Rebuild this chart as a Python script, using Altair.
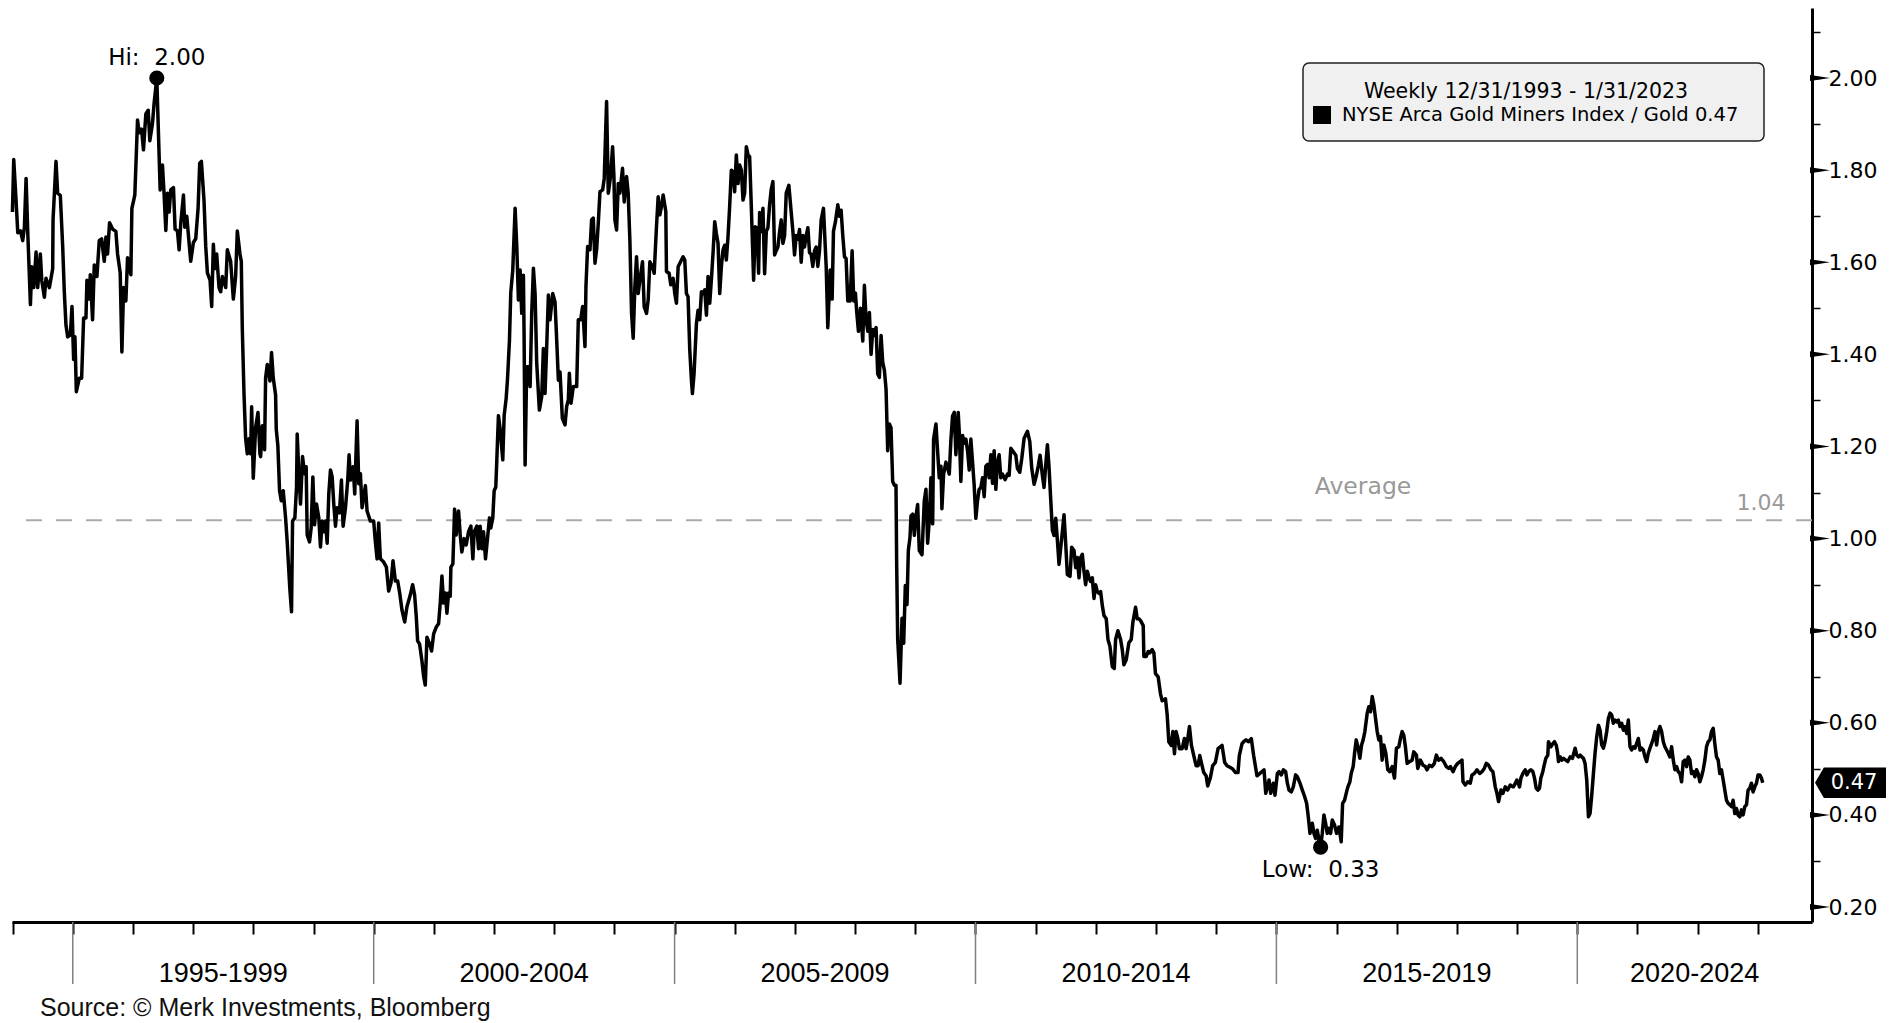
import altair as alt
import pandas as pd

# ---------------- data (decimal year, ratio) ----------------
seg_1994_1998 = [
    (1993.997, 1.709), (1994.019, 1.823), (1994.058, 1.733), (1994.086, 1.664), (1994.130, 1.668),
    (1994.168, 1.647), (1994.196, 1.676), (1994.224, 1.782), (1994.251, 1.668), (1994.279, 1.569),
    (1994.296, 1.508), (1994.318, 1.590), (1994.351, 1.545), (1994.390, 1.622), (1994.417, 1.545),
    (1994.461, 1.618), (1994.484, 1.561), (1994.528, 1.524), (1994.555, 1.565), (1994.611, 1.545),
    (1994.666, 1.586), (1994.672, 1.692), (1994.721, 1.819), (1994.749, 1.750), (1994.793, 1.745),
    (1994.832, 1.635), (1994.859, 1.536), (1994.887, 1.463), (1994.915, 1.438), (1994.959, 1.442),
    (1994.987, 1.504), (1995.014, 1.389), (1995.036, 1.438), (1995.059, 1.319), (1995.108, 1.348),
    (1995.147, 1.348), (1995.180, 1.479), (1995.219, 1.479), (1995.235, 1.561), (1995.274, 1.520),
    (1995.291, 1.573), (1995.329, 1.475), (1995.357, 1.594), (1995.401, 1.569), (1995.440, 1.647),
    (1995.479, 1.651), (1995.523, 1.602), (1995.551, 1.655), (1995.578, 1.618), (1995.611, 1.686),
    (1995.661, 1.672), (1995.716, 1.667), (1995.744, 1.618), (1995.788, 1.577), (1995.816, 1.405),
    (1995.844, 1.545), (1995.882, 1.516), (1995.910, 1.610), (1995.965, 1.573), (1995.982, 1.717),
    (1996.031, 1.746), (1996.076, 1.909), (1996.103, 1.881), (1996.142, 1.889), (1996.175, 1.844),
    (1996.214, 1.922), (1996.253, 1.930), (1996.280, 1.864), (1996.324, 1.901), (1996.352, 1.946),
    (1996.396, 2.000), (1996.435, 1.830), (1996.452, 1.757), (1996.490, 1.811), (1996.518, 1.746),
    (1996.546, 1.669), (1996.573, 1.750), (1996.601, 1.709), (1996.628, 1.757), (1996.673, 1.762),
    (1996.700, 1.672), (1996.739, 1.668), (1996.767, 1.627), (1996.794, 1.684), (1996.839, 1.746),
    (1996.861, 1.676), (1996.894, 1.700), (1996.932, 1.643), (1996.960, 1.602), (1997.004, 1.643),
    (1997.043, 1.651), (1997.082, 1.717), (1997.109, 1.815), (1997.137, 1.819), (1997.181, 1.733),
    (1997.209, 1.635), (1997.237, 1.577), (1997.281, 1.561), (1997.308, 1.504), (1997.336, 1.639),
    (1997.358, 1.586), (1997.391, 1.618), (1997.430, 1.545), (1997.458, 1.536), (1997.485, 1.569),
    (1997.541, 1.545), (1997.568, 1.627), (1997.623, 1.602), (1997.668, 1.520), (1997.706, 1.569),
    (1997.734, 1.668), (1997.778, 1.618), (1997.800, 1.602), (1997.817, 1.455), (1997.845, 1.315),
    (1997.872, 1.217), (1997.900, 1.184), (1997.927, 1.217), (1997.955, 1.184), (1997.972, 1.286),
    (1997.999, 1.131), (1998.038, 1.241), (1998.077, 1.274), (1998.110, 1.184),
]
seg_1998_2002 = [
    (1998.121, 1.178), (1998.149, 1.245), (1998.187, 1.193), (1998.204, 1.349), (1998.232, 1.378),
    (1998.276, 1.342), (1998.303, 1.404), (1998.331, 1.349), (1998.370, 1.312), (1998.381, 1.238),
    (1998.408, 1.201), (1998.436, 1.104), (1998.464, 1.082), (1998.497, 1.104), (1998.536, 1.045),
    (1998.563, 0.993), (1998.607, 0.890), (1998.635, 0.841), (1998.652, 1.038), (1998.690, 1.045),
    (1998.718, 1.112), (1998.729, 1.227), (1998.757, 1.141), (1998.784, 1.075), (1998.818, 1.178),
    (1998.851, 1.141), (1998.878, 1.156), (1998.895, 1.008), (1998.934, 0.993), (1998.961, 1.023),
    (1998.989, 1.134), (1999.017, 1.030), (1999.050, 1.075), (1999.088, 1.045), (1999.116, 0.982),
    (1999.144, 1.038), (1999.171, 1.015), (1999.199, 1.038), (1999.227, 0.990), (1999.254, 1.097),
    (1999.282, 1.149), (1999.310, 1.134), (1999.337, 1.075), (1999.365, 1.027), (1999.392, 1.067),
    (1999.431, 1.056), (1999.464, 1.127), (1999.492, 1.027), (1999.531, 1.067), (1999.569, 1.127),
    (1999.591, 1.182), (1999.614, 1.127), (1999.658, 1.156), (1999.685, 1.097), (1999.724, 1.256),
    (1999.752, 1.119), (1999.779, 1.141), (1999.807, 1.067), (1999.862, 1.115), (1999.890, 1.060),
    (1999.945, 1.038), (2000.000, 1.038), (2000.028, 0.993), (2000.056, 0.956), (2000.083, 1.034),
    (2000.111, 0.956), (2000.166, 0.949), (2000.211, 0.938), (2000.249, 0.886), (2000.288, 0.904),
    (2000.321, 0.952), (2000.360, 0.908), (2000.399, 0.908), (2000.432, 0.882), (2000.470, 0.845),
    (2000.515, 0.819), (2000.553, 0.852), (2000.609, 0.878), (2000.647, 0.900), (2000.680, 0.878),
    (2000.708, 0.830), (2000.730, 0.778), (2000.763, 0.771), (2000.802, 0.734), (2000.830, 0.701),
    (2000.857, 0.682), (2000.885, 0.786), (2000.929, 0.771), (2000.962, 0.756), (2000.996, 0.793),
    (2001.040, 0.808), (2001.078, 0.815), (2001.106, 0.860), (2001.134, 0.919), (2001.161, 0.860),
    (2001.189, 0.882), (2001.217, 0.838), (2001.244, 0.882), (2001.272, 0.875), (2001.283, 0.938),
    (2001.316, 0.945), (2001.344, 1.064), (2001.371, 1.008), (2001.410, 1.060), (2001.438, 1.008),
    (2001.465, 0.971), (2001.504, 1.000), (2001.537, 0.986), (2001.576, 1.015), (2001.615, 1.027),
    (2001.648, 0.956), (2001.670, 1.015), (2001.714, 1.027), (2001.742, 0.978), (2001.769, 1.027),
    (2001.797, 0.978), (2001.825, 1.015), (2001.858, 0.956), (2001.891, 1.000), (2001.924, 1.045),
    (2001.946, 1.023), (2001.979, 1.045), (2002.002, 1.104), (2002.029, 1.112), (2002.046, 1.171),
    (2002.073, 1.267), (2002.101, 1.238), (2002.145, 1.171), (2002.168, 1.267), (2002.201, 1.304),
    (2002.223, 1.345), (2002.256, 1.430), (2002.278, 1.534),
]
seg_2002_2006 = [
    (2002.311, 1.583), (2002.350, 1.717), (2002.378, 1.634), (2002.405, 1.518), (2002.433, 1.583),
    (2002.460, 1.489), (2002.488, 1.572), (2002.499, 1.446), (2002.516, 1.160), (2002.543, 1.373),
    (2002.571, 1.373), (2002.599, 1.330), (2002.626, 1.489), (2002.654, 1.587), (2002.682, 1.532),
    (2002.709, 1.381), (2002.753, 1.279), (2002.792, 1.308), (2002.820, 1.413), (2002.847, 1.315),
    (2002.875, 1.417), (2002.903, 1.529), (2002.930, 1.475), (2002.975, 1.532), (2003.013, 1.514),
    (2003.041, 1.431), (2003.069, 1.344), (2003.096, 1.362), (2003.135, 1.261), (2003.179, 1.247),
    (2003.207, 1.287), (2003.234, 1.301), (2003.251, 1.359), (2003.279, 1.294), (2003.317, 1.330),
    (2003.373, 1.330), (2003.400, 1.475), (2003.439, 1.475), (2003.472, 1.504), (2003.511, 1.417),
    (2003.527, 1.547), (2003.555, 1.634), (2003.594, 1.627), (2003.621, 1.692), (2003.649, 1.696),
    (2003.677, 1.598), (2003.704, 1.627), (2003.732, 1.685), (2003.760, 1.753), (2003.804, 1.757),
    (2003.831, 1.782), (2003.870, 1.949), (2003.898, 1.750), (2003.936, 1.786), (2003.970, 1.851),
    (2003.992, 1.786), (2004.008, 1.692), (2004.036, 1.670), (2004.064, 1.771), (2004.091, 1.750),
    (2004.135, 1.804), (2004.163, 1.731), (2004.202, 1.786), (2004.229, 1.750), (2004.257, 1.648),
    (2004.285, 1.489), (2004.312, 1.435), (2004.340, 1.547), (2004.368, 1.612), (2004.395, 1.532),
    (2004.423, 1.561), (2004.467, 1.601), (2004.495, 1.503), (2004.534, 1.489), (2004.561, 1.518),
    (2004.589, 1.601), (2004.633, 1.590), (2004.661, 1.576), (2004.699, 1.677), (2004.727, 1.742),
    (2004.755, 1.703), (2004.782, 1.721), (2004.810, 1.746), (2004.854, 1.710), (2004.865, 1.580),
    (2004.909, 1.576), (2004.937, 1.551), (2004.976, 1.565), (2005.003, 1.532), (2005.031, 1.511),
    (2005.059, 1.590), (2005.114, 1.605), (2005.141, 1.612), (2005.169, 1.605), (2005.197, 1.532),
    (2005.224, 1.525), (2005.252, 1.410), (2005.280, 1.344), (2005.296, 1.315), (2005.324, 1.359),
    (2005.363, 1.467), (2005.390, 1.496), (2005.418, 1.475), (2005.446, 1.536), (2005.473, 1.532),
    (2005.501, 1.540), (2005.529, 1.485), (2005.556, 1.569), (2005.584, 1.511), (2005.611, 1.561),
    (2005.639, 1.620), (2005.667, 1.688), (2005.694, 1.663), (2005.722, 1.641), (2005.750, 1.532),
    (2005.777, 1.590), (2005.805, 1.627), (2005.833, 1.637), (2005.860, 1.605), (2005.888, 1.656),
    (2005.915, 1.721), (2005.943, 1.800), (2005.971, 1.797), (2005.998, 1.753), (2006.026, 1.833),
    (2006.054, 1.771), (2006.081, 1.811), (2006.109, 1.800), (2006.137, 1.735), (2006.164, 1.750),
    (2006.192, 1.851), (2006.220, 1.833), (2006.247, 1.829), (2006.275, 1.721), (2006.313, 1.561),
    (2006.341, 1.677), (2006.369, 1.674), (2006.396, 1.576),
]
seg_2006_2010 = [
    (2006.413, 1.708), (2006.441, 1.667), (2006.468, 1.717), (2006.496, 1.575), (2006.524, 1.667),
    (2006.551, 1.675), (2006.579, 1.725), (2006.606, 1.758), (2006.634, 1.775), (2006.662, 1.616),
    (2006.689, 1.625), (2006.717, 1.633), (2006.745, 1.667), (2006.772, 1.692), (2006.800, 1.641),
    (2006.828, 1.658), (2006.855, 1.750), (2006.899, 1.767), (2006.938, 1.708), (2006.966, 1.667),
    (2006.993, 1.616), (2007.021, 1.658), (2007.049, 1.650), (2007.076, 1.671), (2007.104, 1.600),
    (2007.132, 1.658), (2007.159, 1.633), (2007.187, 1.658), (2007.215, 1.675), (2007.242, 1.621),
    (2007.270, 1.617), (2007.297, 1.591), (2007.325, 1.625), (2007.353, 1.633), (2007.380, 1.591),
    (2007.408, 1.625), (2007.436, 1.692), (2007.474, 1.717), (2007.519, 1.591), (2007.546, 1.458),
    (2007.585, 1.583), (2007.618, 1.520), (2007.640, 1.667), (2007.673, 1.688), (2007.712, 1.725),
    (2007.740, 1.700), (2007.767, 1.713), (2007.795, 1.658), (2007.823, 1.612), (2007.850, 1.608),
    (2007.878, 1.516), (2007.917, 1.516), (2007.950, 1.625), (2007.977, 1.516), (2008.005, 1.533),
    (2008.027, 1.491), (2008.055, 1.450), (2008.088, 1.500), (2008.127, 1.429), (2008.154, 1.550),
    (2008.182, 1.475), (2008.210, 1.450), (2008.237, 1.491), (2008.265, 1.400), (2008.293, 1.454),
    (2008.320, 1.441), (2008.348, 1.458), (2008.375, 1.358), (2008.403, 1.350), (2008.431, 1.441),
    (2008.458, 1.383), (2008.486, 1.366), (2008.514, 1.324), (2008.541, 1.191), (2008.569, 1.249),
    (2008.596, 1.241), (2008.624, 1.124), (2008.652, 1.116), (2008.679, 1.116), (2008.690, 0.948),
    (2008.707, 0.782), (2008.746, 0.686), (2008.779, 0.827), (2008.807, 0.773), (2008.834, 0.898),
    (2008.862, 0.857), (2008.884, 0.974), (2008.912, 1.003), (2008.928, 1.049), (2008.956, 1.053),
    (2008.984, 1.007), (2009.011, 1.049), (2009.039, 1.074), (2009.066, 0.974), (2009.111, 0.965),
    (2009.149, 1.082), (2009.177, 1.107), (2009.205, 0.990), (2009.232, 1.040), (2009.260, 1.132),
    (2009.288, 1.032), (2009.304, 1.216), (2009.343, 1.249), (2009.370, 1.191), (2009.398, 1.132),
    (2009.426, 1.157), (2009.442, 1.065), (2009.470, 1.140), (2009.509, 1.166), (2009.564, 1.140),
    (2009.592, 1.216), (2009.619, 1.266), (2009.647, 1.274), (2009.674, 1.182), (2009.713, 1.274),
    (2009.730, 1.232), (2009.757, 1.124), (2009.785, 1.224), (2009.813, 1.207), (2009.840, 1.216),
    (2009.868, 1.191), (2009.896, 1.149), (2009.923, 1.216), (2009.951, 1.166), (2009.978, 1.116),
    (2010.006, 1.044), (2010.034, 1.082), (2010.061, 1.107), (2010.089, 1.111), (2010.117, 1.132),
    (2010.144, 1.091), (2010.172, 1.157), (2010.200, 1.161), (2010.227, 1.132), (2010.255, 1.182),
    (2010.283, 1.120), (2010.310, 1.191), (2010.338, 1.107), (2010.366, 1.166), (2010.393, 1.182),
    (2010.421, 1.132), (2010.448, 1.140), (2010.493, 1.128), (2010.531, 1.140),
]
seg_2010_2014 = [
    (2010.559, 1.137), (2010.587, 1.196), (2010.625, 1.189), (2010.670, 1.181), (2010.697, 1.152),
    (2010.736, 1.144), (2010.769, 1.174), (2010.808, 1.218), (2010.863, 1.233), (2010.902, 1.211),
    (2010.935, 1.152), (2010.974, 1.118), (2011.012, 1.137), (2011.045, 1.159), (2011.073, 1.181),
    (2011.112, 1.137), (2011.139, 1.111), (2011.167, 1.159), (2011.195, 1.204), (2011.222, 1.155),
    (2011.250, 1.085), (2011.278, 1.018), (2011.305, 1.007), (2011.333, 1.044), (2011.361, 0.996),
    (2011.388, 0.944), (2011.432, 1.000), (2011.471, 1.052), (2011.499, 0.989), (2011.526, 0.922),
    (2011.571, 0.918), (2011.598, 0.981), (2011.637, 0.974), (2011.665, 0.937), (2011.692, 0.959),
    (2011.720, 0.915), (2011.747, 0.959), (2011.775, 0.966), (2011.803, 0.929), (2011.830, 0.900),
    (2011.858, 0.929), (2011.886, 0.915), (2011.913, 0.907), (2011.941, 0.915), (2011.969, 0.870),
    (2011.996, 0.900), (2012.024, 0.885), (2012.052, 0.881), (2012.079, 0.885), (2012.107, 0.855),
    (2012.135, 0.833), (2012.173, 0.826), (2012.201, 0.781), (2012.234, 0.766), (2012.273, 0.722),
    (2012.306, 0.718), (2012.328, 0.781), (2012.367, 0.800), (2012.411, 0.781), (2012.439, 0.759),
    (2012.466, 0.726), (2012.505, 0.737), (2012.549, 0.774), (2012.588, 0.781), (2012.615, 0.818),
    (2012.660, 0.851), (2012.687, 0.826), (2012.715, 0.826), (2012.743, 0.822), (2012.787, 0.811),
    (2012.798, 0.744), (2012.836, 0.744), (2012.870, 0.755), (2012.897, 0.752), (2012.936, 0.759),
    (2012.964, 0.752), (2012.991, 0.707), (2013.035, 0.700), (2013.074, 0.663), (2013.102, 0.648),
    (2013.157, 0.652), (2013.185, 0.618), (2013.212, 0.559), (2013.251, 0.551), (2013.279, 0.581),
    (2013.306, 0.533), (2013.334, 0.581), (2013.362, 0.566), (2013.389, 0.544), (2013.434, 0.544),
    (2013.472, 0.566), (2013.500, 0.544), (2013.528, 0.566), (2013.555, 0.592), (2013.588, 0.551),
    (2013.627, 0.529), (2013.666, 0.507), (2013.699, 0.507), (2013.727, 0.529), (2013.765, 0.507),
    (2013.793, 0.492), (2013.832, 0.485), (2013.859, 0.463), (2013.903, 0.481), (2013.942, 0.507),
    (2013.986, 0.514), (2014.031, 0.544), (2014.069, 0.548), (2014.097, 0.551), (2014.141, 0.514),
    (2014.180, 0.507), (2014.235, 0.503), (2014.274, 0.500), (2014.318, 0.492), (2014.362, 0.492),
    (2014.384, 0.529), (2014.429, 0.555), (2014.456, 0.559), (2014.495, 0.563), (2014.539, 0.559),
    (2014.583, 0.566), (2014.622, 0.529), (2014.650, 0.507), (2014.677, 0.485),
]
seg_2014_2018 = [
    (2014.795, 0.498), (2014.823, 0.447), (2014.850, 0.461), (2014.878, 0.476), (2014.906, 0.447),
    (2014.950, 0.469), (2014.977, 0.443), (2015.016, 0.490), (2015.044, 0.494), (2015.082, 0.487),
    (2015.116, 0.498), (2015.154, 0.494), (2015.182, 0.469), (2015.210, 0.454), (2015.248, 0.450),
    (2015.281, 0.461), (2015.320, 0.487), (2015.348, 0.483), (2015.392, 0.469), (2015.431, 0.454),
    (2015.469, 0.440), (2015.503, 0.425), (2015.530, 0.396), (2015.558, 0.360), (2015.597, 0.382),
    (2015.624, 0.360), (2015.652, 0.349), (2015.679, 0.367), (2015.707, 0.346), (2015.735, 0.330),
    (2015.762, 0.360), (2015.790, 0.400), (2015.818, 0.382), (2015.845, 0.360), (2015.873, 0.371),
    (2015.901, 0.360), (2015.928, 0.389), (2015.967, 0.378), (2016.000, 0.360), (2016.039, 0.374),
    (2016.077, 0.342), (2016.100, 0.425), (2016.133, 0.432), (2016.166, 0.450), (2016.188, 0.461),
    (2016.221, 0.472), (2016.243, 0.490), (2016.276, 0.505), (2016.299, 0.534), (2016.326, 0.563),
    (2016.354, 0.548), (2016.387, 0.523), (2016.415, 0.552), (2016.442, 0.563), (2016.470, 0.581),
    (2016.509, 0.621), (2016.536, 0.635), (2016.564, 0.624), (2016.592, 0.657), (2016.619, 0.639),
    (2016.647, 0.610), (2016.675, 0.581), (2016.702, 0.563), (2016.730, 0.570), (2016.757, 0.519),
    (2016.785, 0.552), (2016.818, 0.534), (2016.851, 0.498), (2016.885, 0.494), (2016.923, 0.505),
    (2016.962, 0.480), (2016.995, 0.545), (2017.034, 0.548), (2017.061, 0.566), (2017.089, 0.581),
    (2017.117, 0.573), (2017.144, 0.548), (2017.172, 0.512), (2017.216, 0.516), (2017.255, 0.519),
    (2017.283, 0.537), (2017.327, 0.530), (2017.349, 0.501), (2017.393, 0.519), (2017.437, 0.508),
    (2017.476, 0.505), (2017.504, 0.498), (2017.542, 0.508), (2017.587, 0.505), (2017.625, 0.512),
    (2017.658, 0.530), (2017.697, 0.519), (2017.736, 0.523), (2017.780, 0.516), (2017.824, 0.505),
    (2017.863, 0.501), (2017.891, 0.505), (2017.935, 0.494), (2017.974, 0.505), (2018.012, 0.512),
    (2018.056, 0.516), (2018.084, 0.519), (2018.101, 0.472), (2018.139, 0.465), (2018.178, 0.472),
    (2018.222, 0.469), (2018.250, 0.487), (2018.289, 0.490), (2018.333, 0.498), (2018.377, 0.490),
    (2018.416, 0.494), (2018.454, 0.501), (2018.488, 0.512), (2018.526, 0.508), (2018.565, 0.498),
    (2018.598, 0.494), (2018.637, 0.461), (2018.665, 0.447), (2018.692, 0.429), (2018.731, 0.454),
    (2018.764, 0.447), (2018.803, 0.461), (2018.841, 0.454), (2018.886, 0.465), (2018.930, 0.461),
]
seg_2019_2023 = [
    (2018.941, 0.461), (2018.969, 0.469), (2018.996, 0.476), (2019.040, 0.461), (2019.063, 0.480),
    (2019.096, 0.490), (2019.134, 0.498), (2019.162, 0.487), (2019.190, 0.494), (2019.228, 0.498),
    (2019.262, 0.494), (2019.289, 0.480), (2019.317, 0.458), (2019.345, 0.454), (2019.372, 0.458),
    (2019.394, 0.480), (2019.427, 0.494), (2019.450, 0.508), (2019.477, 0.523), (2019.510, 0.530),
    (2019.521, 0.559), (2019.560, 0.548), (2019.593, 0.555), (2019.621, 0.559), (2019.649, 0.552),
    (2019.671, 0.537), (2019.687, 0.516), (2019.715, 0.526), (2019.743, 0.519), (2019.770, 0.523),
    (2019.809, 0.519), (2019.842, 0.516), (2019.881, 0.526), (2019.919, 0.523), (2019.964, 0.545),
    (2019.991, 0.530), (2020.019, 0.526), (2020.047, 0.530), (2020.074, 0.526), (2020.102, 0.523),
    (2020.129, 0.512), (2020.157, 0.476), (2020.185, 0.396), (2020.212, 0.403), (2020.240, 0.443),
    (2020.268, 0.490), (2020.295, 0.534), (2020.323, 0.570), (2020.351, 0.595), (2020.378, 0.584),
    (2020.406, 0.552), (2020.434, 0.545), (2020.461, 0.559), (2020.489, 0.581), (2020.517, 0.610),
    (2020.544, 0.621), (2020.572, 0.617), (2020.599, 0.599), (2020.627, 0.606), (2020.655, 0.602),
    (2020.682, 0.606), (2020.710, 0.592), (2020.738, 0.599), (2020.765, 0.584), (2020.793, 0.592),
    (2020.821, 0.577), (2020.848, 0.606), (2020.876, 0.548), (2020.903, 0.541), (2020.931, 0.548),
    (2020.959, 0.545), (2020.986, 0.555), (2021.014, 0.566), (2021.042, 0.541), (2021.069, 0.545),
    (2021.097, 0.541), (2021.125, 0.526), (2021.152, 0.516), (2021.180, 0.534), (2021.208, 0.545),
    (2021.235, 0.555), (2021.263, 0.566), (2021.290, 0.581), (2021.318, 0.552), (2021.346, 0.581),
    (2021.373, 0.592), (2021.401, 0.581), (2021.429, 0.559), (2021.456, 0.548), (2021.484, 0.541),
    (2021.512, 0.534), (2021.539, 0.526), (2021.567, 0.548), (2021.595, 0.519), (2021.622, 0.498),
    (2021.650, 0.505), (2021.677, 0.494), (2021.705, 0.490), (2021.733, 0.472), (2021.760, 0.516),
    (2021.788, 0.519), (2021.816, 0.505), (2021.843, 0.526), (2021.871, 0.519), (2021.898, 0.490),
    (2021.926, 0.494), (2021.954, 0.483), (2021.981, 0.498), (2022.009, 0.490), (2022.037, 0.472),
    (2022.064, 0.483), (2022.092, 0.498), (2022.120, 0.519), (2022.147, 0.548), (2022.175, 0.559),
    (2022.203, 0.563), (2022.230, 0.581), (2022.258, 0.588), (2022.285, 0.555), (2022.313, 0.526),
    (2022.341, 0.519), (2022.368, 0.490), (2022.396, 0.498), (2022.424, 0.476), (2022.451, 0.454),
    (2022.479, 0.432), (2022.507, 0.425), (2022.534, 0.422), (2022.562, 0.418), (2022.589, 0.432),
    (2022.617, 0.403), (2022.645, 0.414), (2022.672, 0.400), (2022.700, 0.396), (2022.728, 0.411),
    (2022.755, 0.400), (2022.783, 0.418), (2022.811, 0.422), (2022.838, 0.454), (2022.866, 0.458),
    (2022.894, 0.469), (2022.921, 0.450), (2022.949, 0.461), (2022.977, 0.469), (2023.004, 0.487),
    (2023.032, 0.487), (2023.059, 0.480), (2023.082, 0.470),
]

average_value = [1.04]
period_starts = [1995, 2000, 2005, 2010, 2015, 2020]
period_labels = ["1995-1999", "2000-2004", "2005-2009", "2010-2014", "2015-2019", "2020-2024"]
period_label_x = [1997.5, 2002.5, 2007.5, 2012.5, 2017.5, 2021.95]
year_ticks = list(range(1994, 2024))
y_major = [0.2, 0.4, 0.6, 0.8, 1.0, 1.2, 1.4, 1.6, 1.8, 2.0]
y_all_ticks = [0.2, 0.3, 0.4, 0.5, 0.6, 0.7, 0.8, 0.9, 1.0, 1.1, 1.2, 1.3, 1.4, 1.5,
               1.6, 1.7, 1.8, 1.9, 2.0, 2.1]
legend_title = ["Weekly 12/31/1993 - 1/31/2023"]
series_name = ["NYSE Arca Gold Miners Index / Gold"]
source_text = ["Source: \u00a9 Merk Investments, Bloomberg"]

# ---------------- build ----------------
rows = (seg_1994_1998 + seg_1998_2002 + seg_2002_2006 + seg_2006_2010
        + seg_2010_2014 + seg_2014_2018 + seg_2019_2023)
df = pd.DataFrame(rows, columns=["year", "ratio"])
last = df.iloc[-1]
hi = df.loc[df["ratio"].idxmax()]
lo = df.loc[df["ratio"].idxmin()]

W, H = 1800, 914
SANS = "DejaVu Sans"
NARROW = "Liberation Sans Narrow, Liberation Sans, Arial"

xs = alt.Scale(domain=[1993.99, 2023.9], nice=False, zero=False)
ys = alt.Scale(domain=[0.1676, 2.152], nice=False, zero=False)

x_axis = alt.Axis(values=year_ticks, tickSize=12, tickWidth=2, tickColor="black",
                  domainColor="black", domainWidth=3, labels=False, title=None, grid=False)
y_axis = alt.Axis(orient="right", values=y_all_ticks, format=".2f",
                  labelExpr="round(datum.value*10) % 2 == 0 ? datum.label : ''",
                  tickSize=8, tickWidth=1.5, tickColor="black", domainColor="black", domainWidth=3,
                  labelFont=SANS, labelFontSize=22, labelColor="black", labelPadding=8,
                  labelAlign="left", labelBaseline="middle",
                  title=None, grid=False)


def X(field):
    return alt.X(field, scale=xs, axis=x_axis)


def Y(field):
    return alt.Y(field, scale=ys, axis=y_axis)


line = alt.Chart(df).mark_line(color="black", strokeWidth=3.5, strokeJoin="round").encode(
    x=X("year:Q"), y=Y("ratio:Q"))

tri = alt.Chart(pd.DataFrame({"v": y_major})).mark_point(
    shape="M -1 -0.3 L 1 0 L -1 0.3 Z", filled=True, color="black", opacity=1, size=400, strokeWidth=0
).encode(x=alt.value(W + 8), y=Y("v:Q"))

avg_df = pd.DataFrame({"avg": average_value, "name": ["Average"],
                       "lbl": [f"{average_value[0]:.2f}"]})
avg_rule = alt.Chart(avg_df).mark_rule(color="#aaaaaa", strokeWidth=2, strokeDash=[16, 14]).encode(
    y=Y("avg:Q"))
avg_txt = alt.Chart(avg_df).mark_text(font=SANS, fontSize=23.5, color="#999999", dy=-33).encode(
    x=alt.value(1351), y=Y("avg:Q"), text="name:N")
avg_num = alt.Chart(avg_df).mark_text(font=SANS, fontSize=22, color="#999999", dy=-17).encode(
    x=alt.value(1749), y=Y("avg:Q"), text="lbl:N")

sep = alt.Chart(pd.DataFrame({"x": period_starts})).mark_rule(color="#808080", strokeWidth=1.5).encode(
    x=X("x:Q"), y=alt.value(H), y2=alt.value(H + 62))
plab = alt.Chart(pd.DataFrame({"x": period_label_x, "t": period_labels})).mark_text(
    font=NARROW, fontSize=27, color="black", baseline="middle").encode(
    x=X("x:Q"), y=alt.value(H + 52), text="t:N")

ext_df = pd.DataFrame({"year": [hi["year"], lo["year"]], "ratio": [hi["ratio"], lo["ratio"]]})
ext_pts = alt.Chart(ext_df).mark_circle(color="black", opacity=1, size=230).encode(
    x=X("year:Q"), y=Y("ratio:Q"))
hi_df = pd.DataFrame({"year": [hi["year"]], "ratio": [hi["ratio"]],
                      "t": [f"Hi:\u00a0 {hi['ratio']:.2f}"]})
lo_df = pd.DataFrame({"year": [lo["year"]], "ratio": [lo["ratio"]],
                      "t": [f"Low:\u00a0 {lo['ratio']:.2f}"]})
hi_txt = alt.Chart(hi_df).mark_text(font=SANS, fontSize=23, color="black", dy=-20).encode(
    x=X("year:Q"), y=Y("ratio:Q"), text="t:N")
lo_txt = alt.Chart(lo_df).mark_text(font=SANS, fontSize=23, color="black", dy=23).encode(
    x=X("year:Q"), y=Y("ratio:Q"), text="t:N")

last_df = pd.DataFrame({"ratio": [last["ratio"]], "t": [f"{last['ratio']:.2f}"]})
tag = alt.Chart(last_df).mark_point(
    shape="M -1 0 L -0.75 -0.43 L 1 -0.43 L 1 0.43 L -0.75 0.43 Z", filled=True,
    color="black", opacity=1, size=5041, strokeWidth=0
).encode(x=alt.value(1838.5), y=Y("ratio:Q"))
tag_txt = alt.Chart(last_df).mark_text(font=SANS, fontSize=21, color="white", baseline="middle").encode(
    x=alt.value(1842), y=Y("ratio:Q"), text="t:N")

box_df = pd.DataFrame({"k": [1]})
box = alt.Chart(box_df).mark_rect(cornerRadius=6, fill="#f0f0f0", stroke="#222222", strokeWidth=1.5).encode(
    x=alt.value(1291), x2=alt.value(1752), y=alt.value(55), y2=alt.value(133))
leg1 = alt.Chart(pd.DataFrame({"t": legend_title})).mark_text(
    font=SANS, fontSize=20.5, color="black", baseline="middle").encode(
    x=alt.value(1514), y=alt.value(84), text="t:N")
leg_sq = alt.Chart(box_df).mark_point(shape="square", filled=True, color="black", opacity=1, size=324).encode(
    x=alt.value(1310), y=alt.value(107))
leg2 = alt.Chart(pd.DataFrame({"t": [f"{series_name[0]} {last['ratio']:.2f}"]})).mark_text(
    font=SANS, fontSize=19.5, color="black", align="left", baseline="middle").encode(
    x=alt.value(1330), y=alt.value(107), text="t:N")

src = alt.Chart(pd.DataFrame({"t": source_text})).mark_text(
    font=NARROW, fontSize=25, color="#111111", align="left", baseline="middle").encode(
    x=alt.value(28), y=alt.value(H + 86), text="t:N")

chart = alt.layer(
    avg_rule, line, sep, plab, tri, avg_txt, avg_num, ext_pts, hi_txt, lo_txt,
    tag, tag_txt, box, leg1, leg_sq, leg2, src
).properties(
    width=W, height=H,
    autosize=alt.AutoSizeParams(type="none"),
    padding={"left": 4, "top": 0, "right": 80, "bottom": 101},
).configure_view(stroke=None)

chart.save("out.html", embed_options={"renderer": "svg", "actions": False})
